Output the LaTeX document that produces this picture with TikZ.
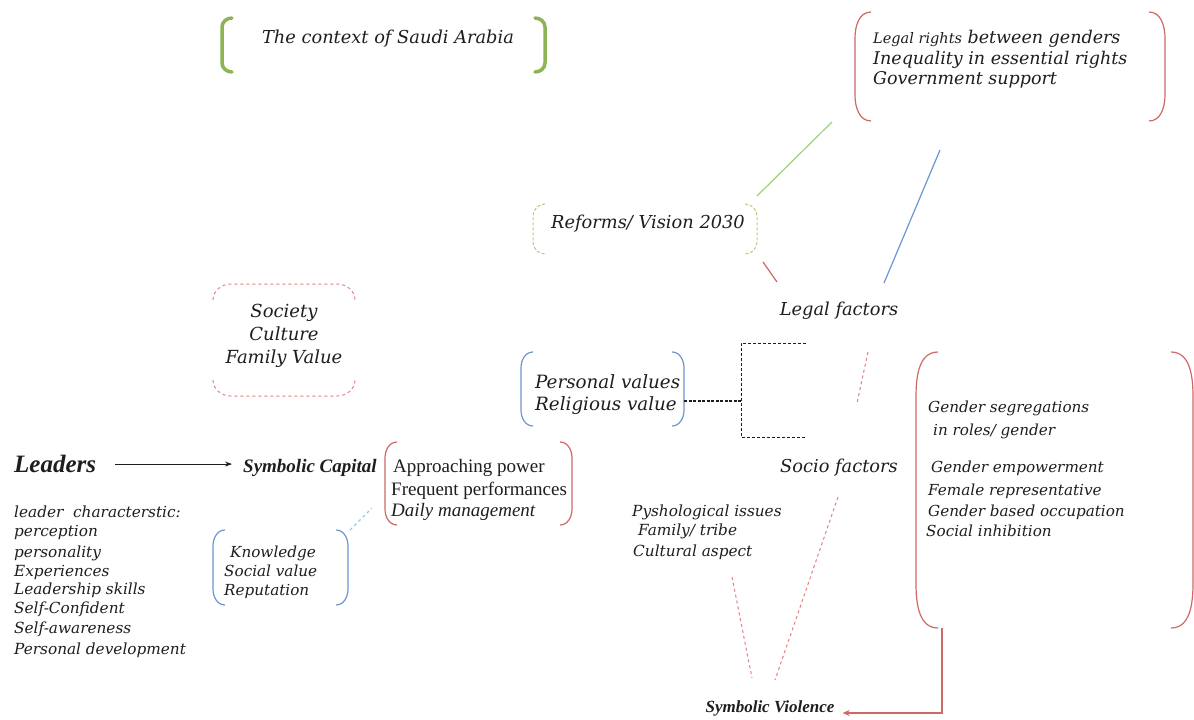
\documentclass[tikz,border=0pt]{standalone}
\usepackage{fontspec}
\setmainfont{DejaVu Serif}
\newfontfamily\tms{Liberation Serif}
\usetikzlibrary{arrows.meta,fit}

\definecolor{ctxgreen}{HTML}{8CB454}
\definecolor{linegreen}{HTML}{A3D172}
\definecolor{parred}{HTML}{CC6A66}
\definecolor{parblue}{HTML}{6E95CF}
\definecolor{dashred}{HTML}{E27F86}
\definecolor{khaki}{HTML}{C9C382}
\definecolor{skyblue}{HTML}{8CD2E8}
\definecolor{ink}{HTML}{1E1E1E}

% round brackets drawn on the sides of a frame node: [style]{node}{dx}{dy}
\newcommand\bracketL[4][]{\draw[#1] ([xshift=#3]#2.north west) to[out=180,in=90] ([yshift=-#4]#2.north west) -- ([yshift=#4]#2.south west) to[out=-90,in=180] ([xshift=#3]#2.south west);}
\newcommand\bracketR[4][]{\draw[#1] ([xshift=-#3]#2.north east) to[out=0,in=90] ([yshift=-#4]#2.north east) -- ([yshift=#4]#2.south east) to[out=-90,in=0] ([xshift=-#3]#2.south east);}
% arcs on the top and bottom edges of a frame node
\newcommand\bracketT[4][]{\draw[#1] ([yshift=-#4]#2.north west) to[out=90,in=180] ([xshift=#3]#2.north west) -- ([xshift=-#3]#2.north east) to[out=0,in=90] ([yshift=-#4]#2.north east);}
\newcommand\bracketB[4][]{\draw[#1] ([yshift=#4]#2.south west) to[out=-90,in=180] ([xshift=#3]#2.south west) -- ([xshift=-#3]#2.south east) to[out=0,in=-90] ([yshift=#4]#2.south east);}

\tikzset{
  frame/.style={inner sep=0pt, outer sep=0pt},
  txt/.style={inner sep=0pt, yshift=-4pt, text=ink, font=\itshape\fontsize{#1}{#1}\selectfont},
  tmsr/.style={inner sep=0pt, yshift=-4pt, text=ink, font=\tms\fontsize{#1}{#1}\selectfont},
  tmsbi/.style={inner sep=0pt, yshift=-4pt, text=ink, font=\tms\bfseries\itshape\fontsize{#1}{#1}\selectfont},
  redpar/.style={draw=parred, line width=1.2pt},
  bluepar/.style={draw=parblue, line width=1.2pt},
  reddash/.style={draw=dashred, line width=1pt, dash pattern=on 3pt off 3pt},
}

\begin{document}
\begin{tikzpicture}[x=1pt,y=-1pt]
\useasboundingbox (0,0) rectangle (1194,720);
\fill[white] (0,0) rectangle (1194,720);

% ---------- frames ----------
\node[frame, fit={(222,18)(545,72)}] (ctxF) {};
\node[frame, fit={(855,12)(1165,121)}] (rightsF) {};
\node[frame, fit={(533,204)(757,254)}] (refF) {};
\node[frame, fit={(213,284)(355,396)}] (socF) {};
\node[frame, fit={(521,352)(684,426)}] (persF) {};
\node[frame, fit={(916,352)(1193,628)}] (genF) {};
\node[frame, fit={(385,442)(572,525)}] (appF) {};
\node[frame, fit={(213,530)(348,605)}] (knowF) {};

\bracketL[draw=ctxgreen, line width=3.5pt, line cap=round]{ctxF}{10}{9}
\bracketR[draw=ctxgreen, line width=3.5pt, line cap=round]{ctxF}{10}{9}
\bracketL[redpar]{rightsF}{16}{26}
\bracketR[redpar]{rightsF}{16}{26}
\bracketL[draw=khaki, line width=1pt, dash pattern=on 3pt off 2pt]{refF}{12}{12}
\bracketR[draw=khaki, line width=1pt, dash pattern=on 3pt off 2pt]{refF}{12}{12}
\bracketT[reddash]{socF}{18}{16}
\bracketB[reddash]{socF}{18}{16}
\bracketL[bluepar]{persF}{12}{16}
\bracketR[bluepar]{persF}{12}{16}
\bracketL[redpar]{genF}{22}{45}
\bracketR[redpar]{genF}{22}{45}
\bracketL[redpar]{appF}{12}{16}
\bracketR[redpar]{appF}{12}{16}
\bracketL[bluepar]{knowF}{12}{16}
\bracketR[bluepar]{knowF}{12}{16}

% ---------- texts ----------
\node[txt=17.8, anchor=mid] (ctx) at (388,37) {The context of Saudi Arabia};

\node[txt=17.5, anchor=mid west] (r1) at (873,37) {{\fontsize{14.5}{14.5}\selectfont Legal rights} between genders};
\node[txt=17.5, anchor=mid west] (r2) at (873,58) {Inequality in essential rights};
\node[txt=17.5, anchor=mid west] (r3) at (873,78) {Government support};

\node[txt=17.8, anchor=mid] (ref) at (648,222) {Reforms/ Vision 2030};
\node[txt=17.8, anchor=mid] (legal) at (839,309) {Legal factors};

\node[txt=18, anchor=mid] (s1) at (284,311) {Society};
\node[txt=18, anchor=mid] (s2) at (284,334) {Culture};
\node[txt=18, anchor=mid] (s3) at (284,357) {Family Value};

\node[txt=18.3, anchor=mid west] (p1) at (535,382) {Personal values};
\node[txt=18.3, anchor=mid west] (p2) at (535,404) {Religious value};

\node[txt=17.8, anchor=mid] (socio) at (839,466) {Socio factors};

\node[txt=15.2, anchor=mid west] (g1) at (928,406) {Gender segregations};
\node[txt=15.2, anchor=mid west] (g2) at (933,429) {in roles/ gender};
\node[txt=15.2, anchor=mid west] (g3) at (931,466) {Gender empowerment};
\node[txt=15.2, anchor=mid west] (g4) at (928,489) {Female representative};
\node[txt=15.2, anchor=mid west] (g5) at (928,510) {Gender based occupation};
\node[txt=15.2, anchor=mid west] (g6) at (926,530) {Social inhibition};

\node[txt=15.3, anchor=mid west] (ps1) at (632,510) {Pyshological issues};
\node[txt=15.3, anchor=mid west] (ps2) at (638,529) {Family/ tribe};
\node[txt=15.3, anchor=mid west] (ps3) at (633,550) {Cultural aspect};

\node[tmsbi=25, anchor=mid west] (lead) at (14,466) {Leaders};
\node[tmsbi=19, anchor=mid west] (cap) at (243,466) {Symbolic Capital};

\node[tmsr=19, anchor=mid west] (a1) at (393,466) {Approaching power};
\node[tmsr=19, anchor=mid west] (a2) at (391,489) {Frequent performances};
\node[tmsr=19, anchor=mid west, font=\tms\itshape\fontsize{19}{19}\selectfont] (a3) at (391,510) {Daily management};

\node[txt=15.3, anchor=mid west] (c1) at (14,511) {leader\ \ characterstic:};
\node[txt=15.3, anchor=mid west] (c2) at (14,530) {perception};
\node[txt=15.3, anchor=mid west] (c3) at (14,551) {personality};
\node[txt=15.3, anchor=mid west] (c4) at (14,570) {Experiences};
\node[txt=15.3, anchor=mid west] (c5) at (14,588) {Leadership skills};
\node[txt=15.3, anchor=mid west] (c6) at (14,607) {Self-Confident};
\node[txt=15.3, anchor=mid west] (c7) at (14,627) {Self-awareness};
\node[txt=15.3, anchor=mid west] (c8) at (14,648) {Personal development};

\node[txt=15.2, anchor=mid west] (k1) at (230,551) {Knowledge};
\node[txt=15.2, anchor=mid west] (k2) at (224,570) {Social value};
\node[txt=15.2, anchor=mid west] (k3) at (224,589) {Reputation};

\node[tmsbi=17, anchor=mid] (viol) at (770,706) {Symbolic Violence};

% ---------- connectors ----------
\coordinate (gTop) at (832,122);
\coordinate (gBot) at (757,196);
\coordinate (bTop) at (940,150);
\coordinate (bBot) at (884,283);
\coordinate (rA) at (763,262);
\coordinate (rB) at (777,282);
\coordinate (dA) at (868,352);
\coordinate (dB) at (857,403);
\coordinate (v1a) at (838,497);
\coordinate (v1b) at (775,680);
\coordinate (v2a) at (732,577);
\coordinate (v2b) at (752,678);
\coordinate (kA) at (350,530);
\coordinate (kB) at (372,508);
\coordinate (elbow) at (741,401);
\coordinate (eTop) at (806,343);
\coordinate (eBot) at (806,437);
\coordinate (drop) at (942,628);
\coordinate (turn) at (942,713);

\draw[draw=linegreen, line width=1.2pt] (gTop) -- (gBot);
\draw[draw=parblue, line width=1.2pt] (bTop) -- (bBot);
\draw[draw=parred, line width=1.2pt] (rA) -- (rB);
\draw[reddash] (dA) -- (dB);
\draw[reddash] (v1a) -- (v1b);
\draw[reddash] (v2a) -- (v2b);
\draw[draw=skyblue, line width=1.2pt, dash pattern=on 3pt off 3pt] (kA) -- (kB);

\draw[ink, line width=1.2pt, dash pattern=on 3pt off 1.5pt] (persF.east |- elbow) -- (elbow);
\draw[ink, line width=1pt, dash pattern=on 3pt off 2pt] (eTop) -| (elbow |- eBot) -- (eBot);

\draw[-{Stealth[length=7pt,width=5pt]}, ink, line width=0.8pt] ([xshift=19pt]lead.east) -- ([xshift=-11pt]cap.west |- lead.east);
\draw[-{Stealth[length=7pt,width=6pt]}, draw=parred, line width=1.4pt] (drop) -- (turn) -- ([xshift=8pt]viol.east |- turn);
\end{tikzpicture}
\end{document}
